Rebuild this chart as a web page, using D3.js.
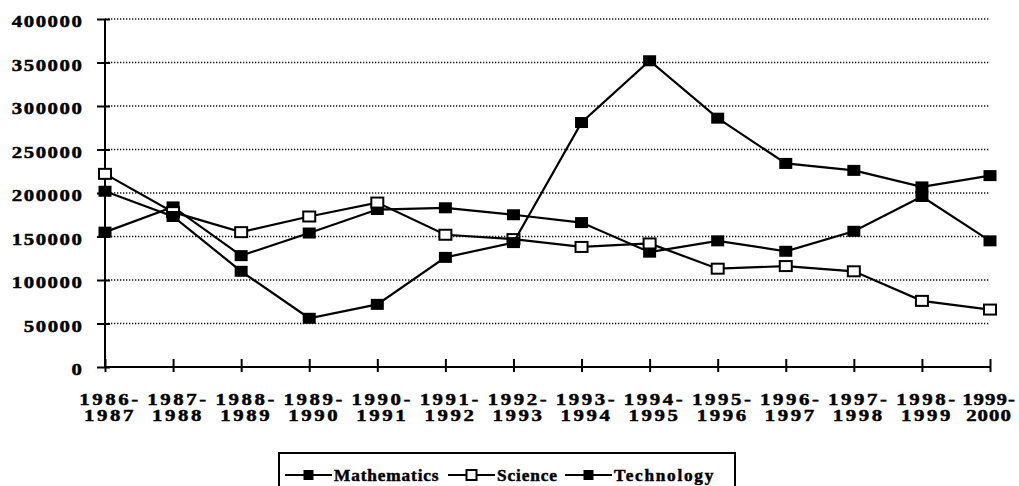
<!DOCTYPE html>
<html>
<head>
<meta charset="utf-8">
<script src="https://cdn.jsdelivr.net/npm/d3@7"></script>
<style>
  html, body { margin: 0; padding: 0; background: #fff; }
  svg { display: block; }
  text { font-family: "Liberation Serif", "Times New Roman", serif; font-weight: bold; fill: #000; stroke: #000; stroke-width: 0.45px; }
</style>
</head>
<body>
<svg id="chart" width="1019" height="486"></svg>
<script>
// ---- Data ----
const categories = [
  ["1986-", "1987"], ["1987-", "1988"], ["1988-", "1989"], ["1989-", "1990"],
  ["1990-", "1991"], ["1991-", "1992"], ["1992-", "1993"], ["1993-", "1994"],
  ["1994-", "1995"], ["1995-", "1996"], ["1996-", "1997"], ["1997-", "1998"],
  ["1998-", "1999"], ["1999-", "2000"]
];
const mathematics = [155000, 184000, 128000, 154000, 181000, 183000, 175000, 166000, 132000, 145000, 133000, 156000, 196000, 145000];
const science     = [222000, 178000, 155000, 173000, 189000, 152000, 147000, 138000, 142000, 113000, 116000, 110000, 76000, 66000];
const technology  = [202000, 173000, 110000, 56000, 72000, 126000, 143000, 281000, 352000, 286000, 234000, 226000, 207000, 220000];
const yTicks = [0, 50000, 100000, 150000, 200000, 250000, 300000, 350000, 400000];
const seriesNames = ["Mathematics", "Science", "Technology"];

const series = [
  { name: seriesNames[0], values: mathematics, filled: true },
  { name: seriesNames[1], values: science, filled: false },
  { name: seriesNames[2], values: technology, filled: true }
];

// ---- Layout ----
const svg = d3.select("#chart");
const plotL = 105, plotR = 990, plotT = 19, plotB = 367;
const SX = 1.3; // horizontal stretch of the (scanned) lettering
const keys = categories.map(c => c.join(" "));

const x = d3.scalePoint().domain(keys).range([plotL, plotR]).padding(0);
const y = d3.scaleLinear().domain([0, 400000]).range([plotB, plotT]);

// gridlines
svg.append("g").selectAll("line")
  .data(yTicks.filter(v => v > 0))
  .join("line")
  .attr("x1", plotL).attr("x2", plotR)
  .attr("y1", d => y(d)).attr("y2", d => y(d))
  .attr("stroke", "#111")
  .attr("stroke-width", 1.5)
  .attr("stroke-dasharray", "1.3,1.7");

// y axis
const yAxis = svg.append("g")
  .attr("transform", `translate(${plotL},0)`)
  .call(d3.axisLeft(y).tickValues(yTicks).tickSize(8).tickPadding(0).tickFormat(d3.format("d")));
yAxis.select(".domain").remove();
yAxis.attr("font-family", null).attr("font-size", null);
yAxis.selectAll(".tick line").attr("x1", -8).attr("x2", 5).attr("stroke", "#000").attr("stroke-width", 2);
yAxis.selectAll(".tick text")
  .attr("x", 0).attr("y", 0).attr("dy", null)
  .attr("text-anchor", "end")
  .attr("fill", "#000")
  .attr("transform", `translate(-21.5,7.5) scale(${SX},1)`)
  .style("font-size", "16px").style("letter-spacing", "1.2px");
yAxis.append("line").attr("x1", 0).attr("x2", 0).attr("y1", plotT).attr("y2", plotB)
  .attr("stroke", "#000").attr("stroke-width", 2);

// x axis
const xAxis = svg.append("g")
  .attr("transform", `translate(0,${plotB})`)
  .call(d3.axisBottom(x).tickSize(5).tickFormat(""));
xAxis.select(".domain").remove();
xAxis.selectAll(".tick line").attr("y1", -8).attr("y2", 5).attr("stroke", "#000").attr("stroke-width", 2);
xAxis.append("line").attr("x1", plotL).attr("x2", plotR).attr("y1", 0).attr("y2", 0)
  .attr("stroke", "#000").attr("stroke-width", 2);

const lastIdx = categories.length - 1;
const xl = svg.append("g").selectAll("text")
  .data(categories)
  .join("text")
  .attr("text-anchor", "middle")
  .attr("transform", (d, i) => `translate(${i === lastIdx ? x(keys[i]) - 1 : x(keys[i]) + 5},0) scale(${SX},1)`)
  .style("font-size", "16px")
  .style("letter-spacing", (d, i) => i === lastIdx ? "0.8px" : "2px");
xl.append("tspan").attr("x", 0).attr("y", 405).text(d => d[0]);
xl.append("tspan").attr("x", 0).attr("y", 421).text(d => d[1]);

// lines + markers
const line = d3.line().x((d, i) => x(keys[i])).y(d => y(d));
series.forEach(s => {
  const g = svg.append("g");
  g.append("path").datum(s.values)
    .attr("d", line).attr("fill", "none").attr("stroke", "#000").attr("stroke-width", 2.2);
  g.selectAll("rect").data(s.values).join("rect")
    .attr("x", (d, i) => x(keys[i]) - (s.filled ? 6.5 : 6))
    .attr("y", d => y(d) - (s.filled ? 5.5 : 5))
    .attr("width", s.filled ? 13 : 12)
    .attr("height", s.filled ? 11 : 10)
    .attr("fill", s.filled ? "#000" : "#fff")
    .attr("stroke", "#000")
    .attr("stroke-width", s.filled ? 0 : 2);
});

// legend
const legend = svg.append("g");
legend.append("rect").attr("x", 279).attr("y", 453).attr("width", 456).attr("height", 45)
  .attr("fill", "#fff").attr("stroke", "#000").attr("stroke-width", 2);
const legendX = [285, 448, 565];
series.forEach((s, i) => {
  const lx = legendX[i];
  legend.append("line").attr("x1", lx).attr("x2", lx + 47).attr("y1", 475).attr("y2", 475)
    .attr("stroke", "#000").attr("stroke-width", 2.2);
  legend.append("rect")
    .attr("x", lx + 23.5 - 5).attr("y", 475 - 5)
    .attr("width", 10).attr("height", 10)
    .attr("fill", s.filled ? "#000" : "#fff")
    .attr("stroke", "#000").attr("stroke-width", s.filled ? 0 : 2);
  legend.append("text")
    .attr("transform", `translate(${lx + 49},481) scale(1.08,1)`)
    .style("font-size", "16px").style("letter-spacing", (i === 2 ? 1.6 : 0.8) + "px")
    .text(s.name);
});
</script>
</body>
</html>
